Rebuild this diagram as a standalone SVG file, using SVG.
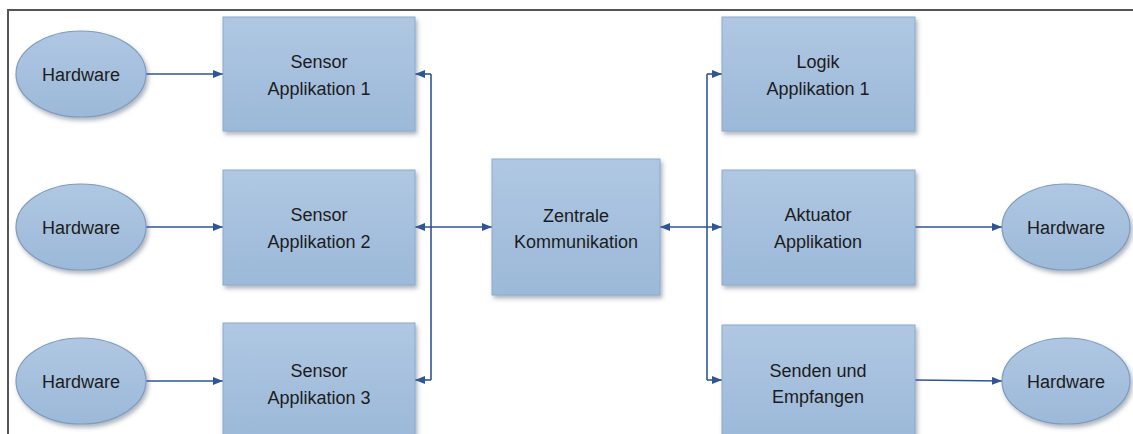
<svg xmlns="http://www.w3.org/2000/svg" width="1133" height="434" viewBox="0 0 1133 434">
  <defs>
    <linearGradient id="boxFill" x1="0" y1="0" x2="0" y2="1">
      <stop offset="0" stop-color="#afc7e2"/>
      <stop offset="1" stop-color="#9cb9d9"/>
    </linearGradient>
    <linearGradient id="ellFill" x1="0" y1="0" x2="0" y2="1">
      <stop offset="0" stop-color="#afc7e2"/>
      <stop offset="1" stop-color="#9cb9d9"/>
    </linearGradient>
    <filter id="shadow" x="-10%" y="-10%" width="125%" height="130%">
      <feDropShadow dx="2" dy="3" stdDeviation="2" flood-color="#4a5a70" flood-opacity="0.45"/>
    </filter>
    <marker id="arrow" markerUnits="userSpaceOnUse" markerWidth="10" markerHeight="8" refX="10" refY="4" orient="auto-start-reverse">
      <path d="M0,0 L10,4 L0,8 z" fill="#2f5597"/>
    </marker>
    <style>
      .box { fill: url(#boxFill); stroke: #8eaacc; stroke-width: 1; filter: url(#shadow); }
      .ell { fill: url(#ellFill); stroke: #7f9bbf; stroke-width: 1.2; filter: url(#shadow); }
      .lbl { font-family: "Liberation Sans", Arial, sans-serif; font-size: 18px; fill: #1c1c1c; text-anchor: middle; }
      .wire { fill: none; stroke: #2f5597; stroke-width: 1.6; }
      .frame { fill: none; stroke: #555555; stroke-width: 2; }
    </style>
  </defs>

  <rect x="0" y="0" width="1133" height="434" fill="#ffffff"/>
  <path class="frame" d="M8,434 L8,10 L1133,10"/>

  <!-- connectors -->
  <g id="connectors">
    <path class="wire" d="M146,74 L223,74" marker-end="url(#arrow)"/>
    <path class="wire" d="M146,227 L223,227" marker-end="url(#arrow)"/>
    <path class="wire" d="M146,381 L223,381" marker-end="url(#arrow)"/>
    <path class="wire" d="M431,74 L431,380"/>
    <path class="wire" d="M431,74 L415,74" marker-end="url(#arrow)"/>
    <path class="wire" d="M431,380 L415,380" marker-end="url(#arrow)"/>
    <path class="wire" d="M415,227 L492,227" marker-start="url(#arrow)" marker-end="url(#arrow)"/>
    <path class="wire" d="M660,227 L722,227" marker-start="url(#arrow)" marker-end="url(#arrow)"/>
    <path class="wire" d="M707,74 L707,380"/>
    <path class="wire" d="M707,74 L722,74" marker-end="url(#arrow)"/>
    <path class="wire" d="M707,380 L722,380" marker-end="url(#arrow)"/>
    <path class="wire" d="M915,227 L1002,227" marker-end="url(#arrow)"/>
    <path class="wire" d="M915,380 L1002,381" marker-end="url(#arrow)"/>
  </g>

  <!-- hardware inputs -->
  <g id="hw-in-1">
    <ellipse class="ell" cx="81" cy="74" rx="65" ry="43"/>
    <text class="lbl" x="81" y="81">Hardware</text>
  </g>
  <g id="hw-in-2">
    <ellipse class="ell" cx="81" cy="227" rx="65" ry="43"/>
    <text class="lbl" x="81" y="234">Hardware</text>
  </g>
  <g id="hw-in-3">
    <ellipse class="ell" cx="81" cy="381" rx="65" ry="43"/>
    <text class="lbl" x="81" y="388">Hardware</text>
  </g>

  <!-- sensor applications -->
  <g id="sensor-1">
    <rect class="box" x="223" y="17" width="192" height="114"/>
    <text class="lbl" x="319" y="68">Sensor</text>
    <text class="lbl" x="319" y="95">Applikation 1</text>
  </g>
  <g id="sensor-2">
    <rect class="box" x="223" y="170" width="192" height="115"/>
    <text class="lbl" x="319" y="221">Sensor</text>
    <text class="lbl" x="319" y="248">Applikation 2</text>
  </g>
  <g id="sensor-3">
    <rect class="box" x="223" y="323" width="192" height="115"/>
    <text class="lbl" x="319" y="377">Sensor</text>
    <text class="lbl" x="319" y="404">Applikation 3</text>
  </g>

  <!-- central hub -->
  <g id="zentrale">
    <rect class="box" x="492" y="159" width="168" height="136"/>
    <text class="lbl" x="576" y="222">Zentrale</text>
    <text class="lbl" x="576" y="248">Kommunikation</text>
  </g>

  <!-- right side applications -->
  <g id="logik">
    <rect class="box" x="722" y="17" width="193" height="114"/>
    <text class="lbl" x="818" y="68">Logik</text>
    <text class="lbl" x="818" y="95">Applikation 1</text>
  </g>
  <g id="aktuator">
    <rect class="box" x="722" y="170" width="193" height="115"/>
    <text class="lbl" x="818" y="221">Aktuator</text>
    <text class="lbl" x="818" y="248">Applikation</text>
  </g>
  <g id="senden">
    <rect class="box" x="722" y="325" width="193" height="115"/>
    <text class="lbl" x="818" y="377">Senden und</text>
    <text class="lbl" x="818" y="403">Empfangen</text>
  </g>

  <!-- hardware outputs -->
  <g id="hw-out-1">
    <ellipse class="ell" cx="1066" cy="227" rx="64" ry="43"/>
    <text class="lbl" x="1066" y="234">Hardware</text>
  </g>
  <g id="hw-out-2">
    <ellipse class="ell" cx="1066" cy="381" rx="64" ry="43"/>
    <text class="lbl" x="1066" y="388">Hardware</text>
  </g>
</svg>
